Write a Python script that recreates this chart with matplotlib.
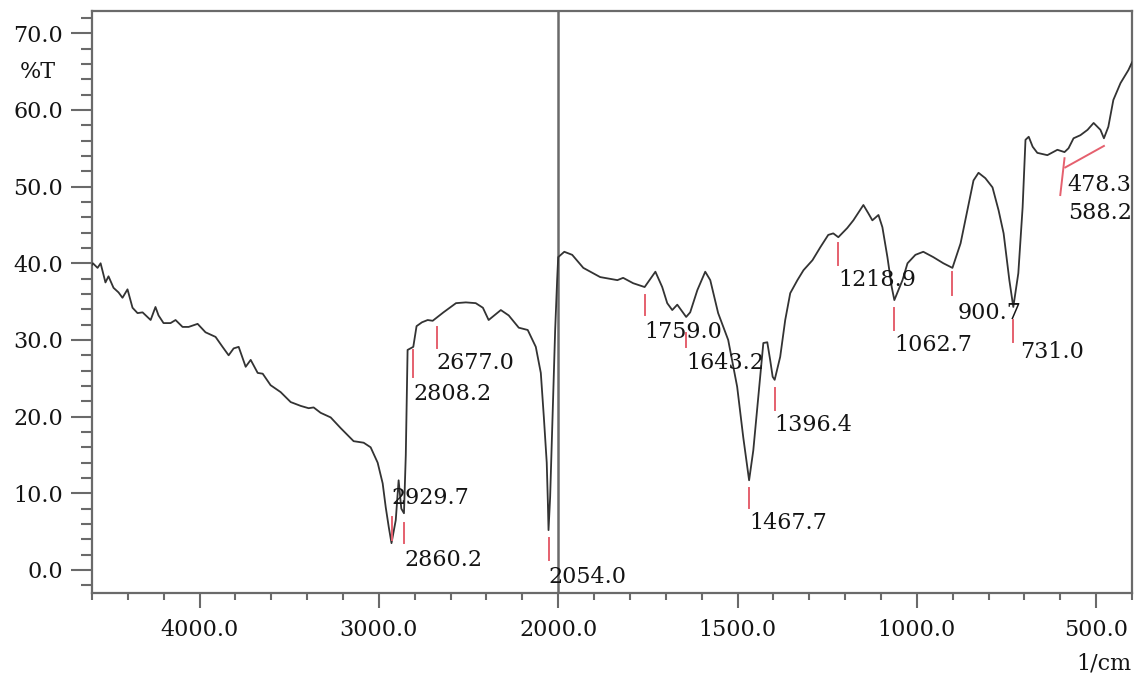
import numpy as np
import matplotlib
matplotlib.use("Agg")
import matplotlib.pyplot as plt
import matplotlib.ticker as ticker

# --- SPECTRUM (wavenumber in 1/cm, transmittance in %T) ---
wavenumber = [
    4600, 4595, 4569, 4552, 4525, 4508, 4480, 4452, 4430, 4402,
    4374, 4346, 4318, 4273, 4246, 4229, 4201, 4162, 4134, 4095,
    4061, 4011, 3967, 3911, 3872, 3838, 3810, 3782, 3743, 3715,
    3676, 3648, 3604, 3548, 3492, 3436, 3392, 3364, 3325, 3269,
    3213, 3141, 3085, 3046, 3007, 2979, 2962, 2945, 2929.7, 2906,
    2890, 2875, 2860.2, 2850, 2840, 2808.2, 2790, 2760, 2728, 2700,
    2640, 2570, 2515, 2460, 2420, 2388, 2320, 2276, 2220, 2170,
    2125, 2097, 2080, 2064, 2058, 2054.0, 2045, 2028, 2017, 2006,
    2000, 1983, 1961, 1930, 1883, 1835, 1819, 1791, 1759.0, 1729,
    1710, 1696, 1682, 1668, 1643.2, 1632, 1612, 1590, 1576, 1554,
    1526, 1501, 1484, 1467.7, 1456, 1442, 1428, 1417, 1409, 1402,
    1396.4, 1381, 1367, 1353, 1333, 1316, 1291, 1269, 1247, 1233,
    1218.9, 1194, 1177, 1149, 1135, 1124, 1107, 1096, 1082, 1070,
    1062.7, 1040, 1026, 1004, 982, 954, 926, 900.7, 878, 859,
    842, 828, 809, 789, 772, 758, 742, 731.0, 717, 705,
    697, 688, 677, 664, 636, 608, 588.2, 577, 563, 544,
    524, 507, 488, 478.3, 466, 452, 432, 410, 400,
]
transmittance = [
    39.8, 40.0, 39.4, 40.0, 37.5, 38.3, 36.8, 36.2, 35.5, 36.6,
    34.2, 33.5, 33.6, 32.6, 34.3, 33.2, 32.2, 32.2, 32.6, 31.7,
    31.7, 32.1, 31.0, 30.4, 29.1, 28.0, 28.9, 29.1, 26.5, 27.4,
    25.7, 25.6, 24.1, 23.2, 21.9, 21.4, 21.1, 21.2, 20.5, 19.9,
    18.5, 16.8, 16.6, 16.0, 14.0, 11.3, 8.2, 5.6, 3.5, 6.5,
    11.7, 8.0, 7.4, 15.0, 28.7, 29.1, 31.8, 32.3, 32.6, 32.5,
    33.6, 34.8, 34.9, 34.8, 34.2, 32.6, 33.9, 33.2, 31.6, 31.3,
    29.1, 25.7, 19.9, 14.0, 9.1, 5.2, 9.5, 22.6, 31.3, 37.8,
    40.8, 41.5, 41.1, 39.4, 38.2, 37.8, 38.1, 37.4, 36.9, 38.9,
    36.9, 34.8, 33.9, 34.6, 33.0, 33.6, 36.5, 38.9, 37.8, 33.5,
    30.0, 23.9, 17.3, 11.7, 15.6, 22.6, 29.6, 29.7, 27.4, 25.2,
    24.8, 27.8, 32.6, 36.1, 37.8, 39.1, 40.4, 42.1, 43.7, 43.9,
    43.4, 44.6, 45.6, 47.6, 46.5, 45.6, 46.3, 44.7, 40.8, 36.9,
    35.2, 37.8, 40.0, 41.1, 41.5, 40.8, 40.0, 39.4, 42.6, 46.9,
    50.8, 51.8, 51.1, 49.9, 46.9, 43.9, 37.8, 34.3, 38.7, 47.3,
    56.1, 56.5, 55.2, 54.4, 54.1, 54.8, 54.5, 55.0, 56.3, 56.7,
    57.4, 58.3, 57.4, 56.3, 57.8, 61.3, 63.5, 65.2, 66.2,
]

# --- PEAK PICKS ---
peak_wn = [2929.7, 2860.2, 2808.2, 2677.0, 2054.0, 1759.0, 1643.2, 1467.7,
           1396.4, 1218.9, 1062.7, 900.7, 731.0, 588.2, 478.3]

# red marker segments: top / bottom %T, and where the bottom end sits
mark_top = [6.9, 6.1, 28.7, 31.7, 4.2, 35.9, 30.9, 10.7, 23.7, 42.6, 34.2, 38.9, 32.6, 53.7, 55.3]
mark_bot = [3.9, 3.5, 25.2, 28.9, 1.3, 33.2, 29.1, 8.1, 20.9, 39.8, 31.3, 35.9, 29.7, 48.9, 52.5]
mark_foot = {588.2: 600, 478.3: 586}

# label anchors (left edge, vertical centre)
label_x = {900.7: 886, 731.0: 711, 588.2: 577, 478.3: 580}
label_y = [9.4, 1.3, 22.9, 27.0, -0.9, 31.0, 27.0, 6.1, 18.9, 37.8, 29.3, 33.5, 28.4, 46.5, 50.2]

major_x = [4000, 3000, 2000, 1500, 1000, 500]
minor_x = [4600, 4400, 4200, 3800, 3600, 3400, 3200, 2800, 2600, 2400, 2200,
           1900, 1800, 1700, 1600, 1400, 1300, 1200, 1100, 900, 800, 700, 600, 400]


# wavenumbers above 2000 are drawn at half scale
def fwd(x):
    x = np.asarray(x, dtype=float)
    return np.where(x > 2000, 2000 + (x - 2000) * 0.5, x)


def inv(t):
    t = np.asarray(t, dtype=float)
    return np.where(t > 2000, 2000 + (t - 2000) * 2.0, t)


plt.rcParams["font.family"] = ["DejaVu Serif"]
FS = 16
INK = "#141414"
FRAME = "#6a6a6a"
PICK = "#e5606e"

fig = plt.figure(figsize=(11.4, 6.76), dpi=100)
ax = fig.add_axes([92 / 1140, 1 - 593 / 676, 1040 / 1140, 582 / 676])

ax.set_xscale("function", functions=(fwd, inv))
ax.set_xlim(4600, 400)
ax.set_ylim(-3.0, 72.9)

ax.plot(wavenumber, transmittance, color="#333333", linewidth=1.3, zorder=3)

# split marker at 2000 1/cm
ax.axvline(2000, color=FRAME, linewidth=1.8, zorder=2)

for i, wn in enumerate(peak_wn):
    foot = mark_foot.get(wn, wn)
    ax.plot([wn, foot], [mark_top[i], mark_bot[i]], color=PICK, linewidth=1.4, zorder=4)
    ax.text(label_x.get(wn, wn), label_y[i], f"{wn:.1f}", fontsize=FS, color=INK,
            ha="left", va="center", zorder=5)

# axes frame and ticks
for sp in ax.spines.values():
    sp.set_color(FRAME)
    sp.set_linewidth(1.6)

ax.xaxis.set_major_locator(ticker.FixedLocator(major_x))
ax.xaxis.set_minor_locator(ticker.FixedLocator(minor_x))
ax.xaxis.set_major_formatter(ticker.FormatStrFormatter("%.1f"))
ax.yaxis.set_major_locator(ticker.MultipleLocator(10))
ax.yaxis.set_minor_locator(ticker.MultipleLocator(2))
ax.yaxis.set_major_formatter(ticker.FormatStrFormatter("%.1f"))

ax.tick_params(axis="both", which="both", direction="out", color=FRAME,
               width=1.5, labelsize=FS, labelcolor=INK)
ax.tick_params(axis="x", which="major", length=11, pad=8)
ax.tick_params(axis="x", which="minor", length=5)
ax.tick_params(axis="y", which="major", length=15, pad=6)
ax.tick_params(axis="y", which="minor", length=8)

fig.text(38 / 1140, 1 - 72 / 676, "%T", fontsize=FS, color=INK, ha="center", va="center")
fig.text(1131 / 1140, 1 - 663 / 676, "1/cm", fontsize=FS, color=INK, ha="right", va="center")

fig.savefig("out.png", dpi=100, facecolor="white")
